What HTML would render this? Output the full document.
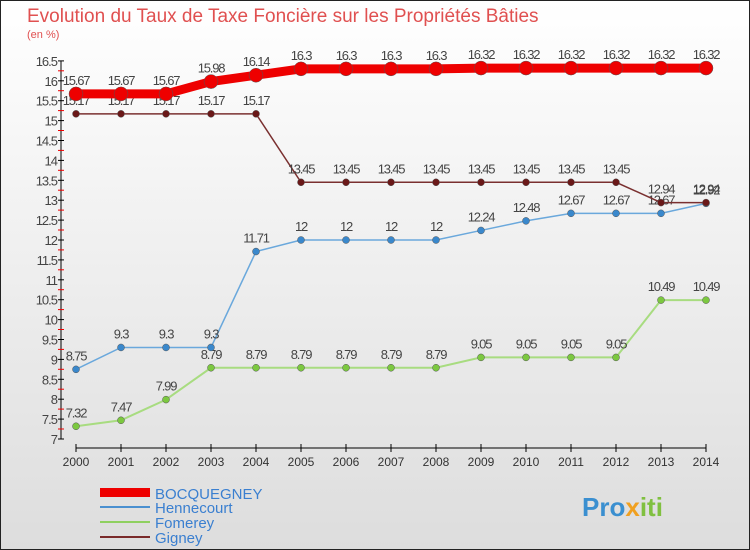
<!DOCTYPE html>
<html><head><meta charset="utf-8"><style>
body{margin:0;width:750px;height:550px;overflow:hidden;font-family:"Liberation Sans",sans-serif}
#c{position:absolute;left:0;top:0;width:748px;height:548px;border:1px solid #222;background:linear-gradient(#fff,#ddd)}
</style></head><body>
<div id="c">
<svg id="s" width="750" height="550" style="position:absolute;left:-1px;top:-1px">
<text x="27" y="22" font-size="19" fill="#e05050">Evolution du Taux de Taxe Foncière sur les Propriétés Bâties</text>
<text x="27" y="38" font-size="11" fill="#e05050">(en %)</text>
<g id="g"></g>
<g>
<rect x="100" y="488" width="50" height="9" fill="#e00"/>
<text x="155" y="499" font-size="15" fill="#3a7fd0">BOCQUEGNEY</text>
<line x1="100" y1="507" x2="150" y2="507" stroke="#4a90d0" stroke-width="2"/>
<text x="155" y="513" font-size="15" fill="#3a7fd0">Hennecourt</text>
<line x1="100" y1="522" x2="150" y2="522" stroke="#8fd060" stroke-width="2"/>
<text x="155" y="528" font-size="15" fill="#3a7fd0">Fomerey</text>
<line x1="100" y1="537" x2="150" y2="537" stroke="#7a2a2a" stroke-width="2"/>
<text x="155" y="543" font-size="15" fill="#3a7fd0">Gigney</text>
</g>
<text x="582" y="516" font-size="26" font-weight="bold" fill="#3a8fd0">Pro<tspan fill="#f0a020">x</tspan><tspan fill="#80c040">iti</tspan></text>
</svg></div>
<script>
const years=[2000,2001,2002,2003,2004,2005,2006,2007,2008,2009,2010,2011,2012,2013,2014];
const bocquegney=[15.67,15.67,15.67,15.98,16.14,16.3,16.3,16.3,16.3,16.32,16.32,16.32,16.32,16.32,16.32];
const hennecourt=[8.75,9.3,9.3,9.3,11.71,12,12,12,12,12.24,12.48,12.67,12.67,12.67,12.92];
const fomerey=[7.32,7.47,7.99,8.79,8.79,8.79,8.79,8.79,8.79,9.05,9.05,9.05,9.05,10.49,10.49];
const gigney=[15.17,15.17,15.17,15.17,15.17,13.45,13.45,13.45,13.45,13.45,13.45,13.45,13.45,12.94,12.94];
const yTicks=[7,7.5,8,8.5,9,9.5,10,10.5,11,11.5,12,12.5,13,13.5,14,14.5,15,15.5,16,16.5];
const X=i=>76+i*45, Y=v=>439-(v-7)*39.8;
const g=document.getElementById('g'),NS='http://www.w3.org/2000/svg';
function mk(t,a){const e=document.createElementNS(NS,t);for(const k in a)e.setAttribute(k,a[k]);g.appendChild(e);return e;}
let e=mk('line',{x1:61,y1:Y(16.5),x2:61,y2:439,stroke:'#000'});


yTicks.forEach((v,k)=>{
 let t=mk('line',{x1:58,x2:64,y1:Y(v),y2:Y(v),stroke:'#000'});
 
 
 if(k<yTicks.length-1){
 let r=mk('line',{x1:58,x2:64,y1:Y(v)-10,y2:Y(v)-10,stroke:'#e00'});
 
 
 }
 let l=mk('text',{x:57,y:Y(v)+5,'font-size':13,'text-anchor':'end',fill:'#444','letter-spacing':'-1'});
 l.textContent=String(v);
 
 
});
e=mk('line',{x1:X(0),x2:X(14),y1:448,y2:448,stroke:'#000'});


years.forEach((y,i)=>{
 let t=mk('line',{x1:X(i),x2:X(i),y1:444,y2:452,stroke:'#000'});
 
 
 let l=mk('text',{x:X(i),y:466,'font-size':12,'text-anchor':'middle',fill:'#333'});
 l.textContent=y;
 
 
});
function series(d,name,col,w,r,dot){
 let p=mk('polyline',{points:d.map((v,i)=>X(i)+','+Y(v)).join(' '),fill:'none',stroke:col,'stroke-width':w});
 
 
 d.forEach((v,i)=>{
  let c=mk('circle',{cx:X(i),cy:Y(v),r:r,fill:dot,stroke:'#555','stroke-width':0.5});
  
  
  let l=mk('text',{x:X(i),y:Y(v)-9,'font-size':13,'text-anchor':'middle',fill:'#444','letter-spacing':'-1.2'});
  l.textContent=String(v);
  
  
 });
}
series(fomerey,'fomerey','#a8dc80',2,3.5,'#7cc840');
series(hennecourt,'hennecourt','#6aa8dc',1.5,3.5,'#3a88cc');
series(gigney,'gigney','#7a3030',1.5,3.5,'#6a1818');
series(bocquegney,'bocquegney','#e00',9,7,'#e00');
</script>
</body></html>
